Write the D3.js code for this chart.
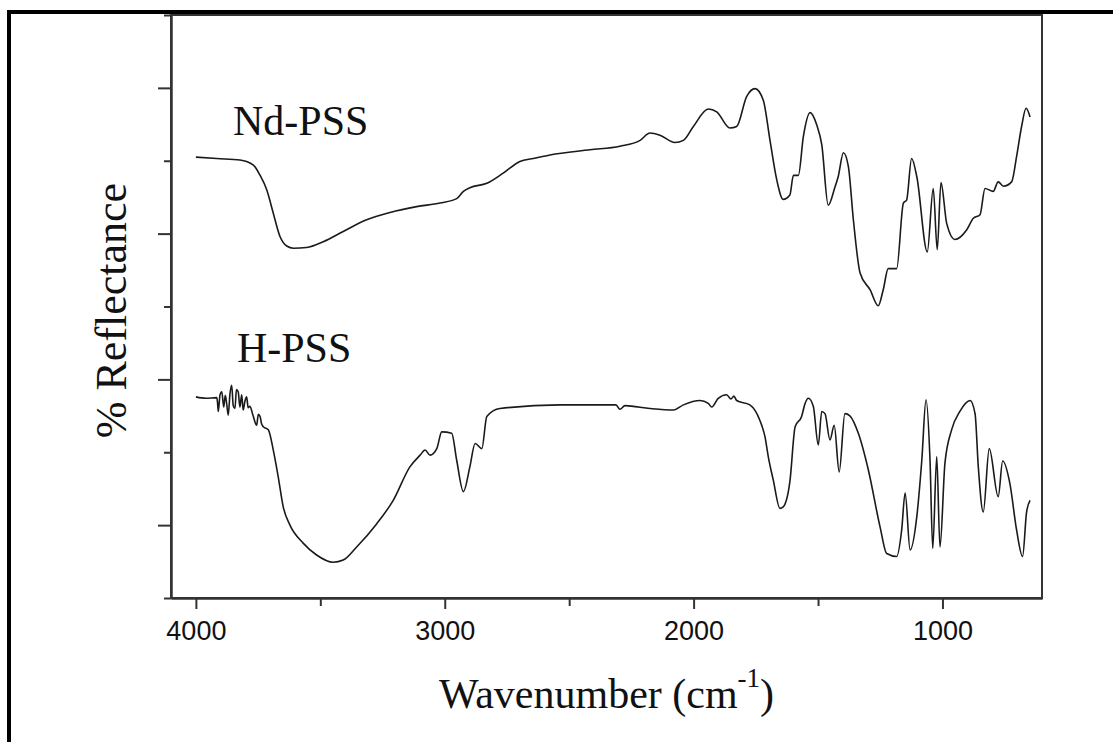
<!DOCTYPE html>
<html>
<head>
<meta charset="utf-8">
<script src="https://cdn.jsdelivr.net/npm/d3@7"></script>
<style>
  body { margin: 0; background: #fff; }
  svg { display: block; }
</style>
</head>
<body>
<svg id="chart"></svg>
<script>
// IR reflectance spectra

var ndWave = [4000,3916,3823,3769,3742,3715,3689,3662,3635,3608,3555,3488,3408,3314,3220,3113,3019,2952,2925,2899,
  2831,2765,2698,2644,2577,2416,2296,2215,2175,2135,2075,2041,2001,1941,1907,1854,1827,1787,1753,1720,
  1693,1666,1640,1613,1599,1579,1559,1532,1505,1485,1459,1432,1419,1398,1378,1358,1331,1291,1258,1238,
  1218,1184,1157,1144,1124,1103,1061,1037,1021,1006,983,950,903,876,849,829,796,776,755,722,
  702,682,664,648];
var ndRefl = [60.5,60.3,60.1,59.4,58.0,56.0,52.8,49.6,48.3,48.0,48.1,48.9,50.3,51.9,52.9,53.7,54.2,54.8,55.8,56.3,
  56.9,58.3,59.9,60.3,60.8,61.5,62.0,62.8,63.8,63.5,62.5,62.8,64.7,67.1,66.7,64.5,64.7,68.8,69.9,68.3,
  62.8,57.4,54.7,55.3,58.0,58.0,63.3,66.6,64.9,62.2,53.9,56.4,57.8,61.1,59.2,51.9,44.6,42.3,40.1,42.3,
  45.2,45.2,54.2,54.6,60.3,57.8,47.5,56.2,47.8,57.0,51.4,49.2,50.5,52.1,52.6,56.2,55.8,57.1,56.5,57.1,
  60.6,64.7,67.2,66.0];

var hWave = [4000,3960,3916,3913,3910,3903,3896,3888,3882,3876,3870,3863,3856,3850,3843,3837,3830,3823,3816,3810,
  3803,3796,3790,3783,3770,3756,3749,3742,3736,3729,3709,3689,3669,3649,3622,3568,
  3515,3448,3408,3354,3273,3207,3140,3099,3079,3059,3032,3012,2972,2952,2925,2899,2878,2851,2831,2778,
  2537,2312,2296,2276,2175,2081,2041,1974,1941,1927,1901,1867,1850,1838,1827,1774,1734,1713,1700,1680,1653,1640,
  1613,1592,1566,1552,1539,1519,1499,1485,1472,1452,1435,1415,1392,1372,1338,1298,1251,1224,1184,1164,
  1150,1130,1103,1083,1066,1050,1039,1023,1010,990,963,930,889,869,856,836,812,776,758,729,
  702,678,662,648];
var hRefl = [27.6,27.4,27.5,26.8,25.6,27.9,28.3,26.2,27.8,26.6,25.1,28.0,29.2,26.4,26.0,28.6,28.3,26.2,27.9,25.8,
  27.0,27.6,26.1,26.3,25.0,23.7,25.2,24.9,23.9,23.5,23.1,20.3,16.6,12.5,10.0,7.5,
  5.9,4.9,5.2,7.0,10.2,13.4,18.0,19.6,20.3,19.6,20.5,22.8,22.6,18.9,14.6,18.0,21.2,20.5,24.9,26.0,
  26.5,26.5,25.9,26.4,26.0,25.8,26.5,27.1,26.7,26.2,27.4,27.9,27.3,27.7,27.1,26.5,24.4,22.1,19.4,16.2,12.3,12.5,
  16.0,23.5,24.9,26.7,27.4,26.3,21.0,25.6,25.3,21.7,23.7,17.3,25.3,25.0,22.6,17.6,9.8,6.1,5.7,9.3,
  14.4,6.6,11.2,18.9,27.2,18.9,6.8,19.4,7.0,18.5,23.1,25.6,27.1,25.3,18.0,11.8,20.5,13.9,18.8,15.7,
  9.3,5.7,11.8,13.4];

var seriesNames = ['Nd-PSS', 'H-PSS'];
var seriesLabelAt = [[3851, 63.5], [3835, 32.4]];   // wavenumber, reflectance of label baseline

var xMajorTicks = [4000, 3000, 2000, 1000];
var xMinorTicks = [3500, 2500, 1500];
var yMajorTicks = [10, 30, 50, 70];
var yMinorTicks = [0, 20, 40, 60, 80];

var svgWidth = 1113,
	svgHeight = 742,
	margins = {top: 15, right: 71, bottom: 144, left: 171},
	width = svgWidth - margins.left - margins.right,
	height = svgHeight - margins.top - margins.bottom,
	serif = '"Liberation Serif", "Times New Roman", Times, serif',
	sans = '"Liberation Sans", Arial, Helvetica, sans-serif';

var vis = d3.select('#chart')
	.attr('width', svgWidth)
	.attr('height', svgHeight);

// thick page frame (left + top)
vis.append('path')
	.attr('d', 'M9,' + svgHeight + 'V12H' + svgWidth)
	.attr('fill', 'none')
	.attr('stroke', '#000')
	.attr('stroke-width', 4);

var g = vis.append('g')
	.attr('transform', 'translate(' + margins.left + ',' + margins.top + ')');

// wavenumber axis runs high -> low
var x = d3.scaleLinear().domain([4100, 600]).range([0, width]);
var y = d3.scaleLinear().domain([0, 80]).range([height, 0]);

// plot box
g.append('rect')
	.attr('width', width)
	.attr('height', height)
	.attr('fill', 'none')
	.attr('stroke', '#333')
	.attr('stroke-width', 2);

// x axis, major ticks with labels
var xAxis = g.append('g')
	.attr('transform', 'translate(0,' + height + ')')
	.call(d3.axisBottom(x).tickValues(xMajorTicks).tickSize(11).tickSizeOuter(0).tickPadding(12)
		.tickFormat(d3.format('d')));
xAxis.append('g')
	.call(d3.axisBottom(x).tickValues(xMinorTicks).tickSize(8).tickSizeOuter(0).tickFormat(''));

// y axis, no labels
var yAxis = g.append('g')
	.call(d3.axisLeft(y).tickValues(yMajorTicks).tickSize(13).tickSizeOuter(0).tickFormat(''));
yAxis.append('g')
	.call(d3.axisLeft(y).tickValues(yMinorTicks).tickSize(7).tickSizeOuter(0).tickFormat(''));

g.selectAll('.domain').attr('stroke', '#333').attr('stroke-width', 2);
g.selectAll('.tick line').attr('stroke', '#333').attr('stroke-width', 2);
xAxis.selectAll('text')
	.attr('fill', '#111')
	.style('font-family', sans)
	.style('font-size', '27px');

// spectra
var valueline = d3.line()
	.x(function(d) { return x(d[0]); })
	.y(function(d) { return y(d[1]); })
	.curve(d3.curveMonotoneX);

var series = [d3.zip(ndWave, ndRefl), d3.zip(hWave, hRefl)];

g.selectAll('path.spectrum')
	.data(series)
	.enter().append('path')
	.attr('class', 'spectrum')
	.attr('d', valueline)
	.attr('fill', 'none')
	.attr('stroke', '#1a1a1a')
	.attr('stroke-width', 1.6)
	.attr('stroke-linejoin', 'round');

// series names
g.selectAll('text.series')
	.data(seriesNames)
	.enter().append('text')
	.attr('class', 'series')
	.attr('x', function(d, i) { return x(seriesLabelAt[i][0]); })
	.attr('y', function(d, i) { return y(seriesLabelAt[i][1]); })
	.style('font-family', serif)
	.style('font-size', '42px')
	.attr('fill', '#111')
	.text(function(d) { return d; });

// axis titles
var xTitle = vis.append('text')
	.attr('x', margins.left + width / 2)
	.attr('y', 708)
	.attr('text-anchor', 'middle')
	.style('font-family', serif)
	.style('font-size', '42px')
	.attr('fill', '#111');
xTitle.append('tspan').text('Wavenumber (cm');
xTitle.append('tspan').attr('dy', -21).style('font-size', '27px').text('-1');
xTitle.append('tspan').attr('dy', 21).text(')');

vis.append('text')
	.attr('transform', 'translate(126,' + (margins.top + height / 2 + 4) + ') rotate(-90)')
	.attr('text-anchor', 'middle')
	.style('font-family', serif)
	.style('font-size', '44px')
	.attr('fill', '#111')
	.text('% Reflectance');
</script>
</body>
</html>
